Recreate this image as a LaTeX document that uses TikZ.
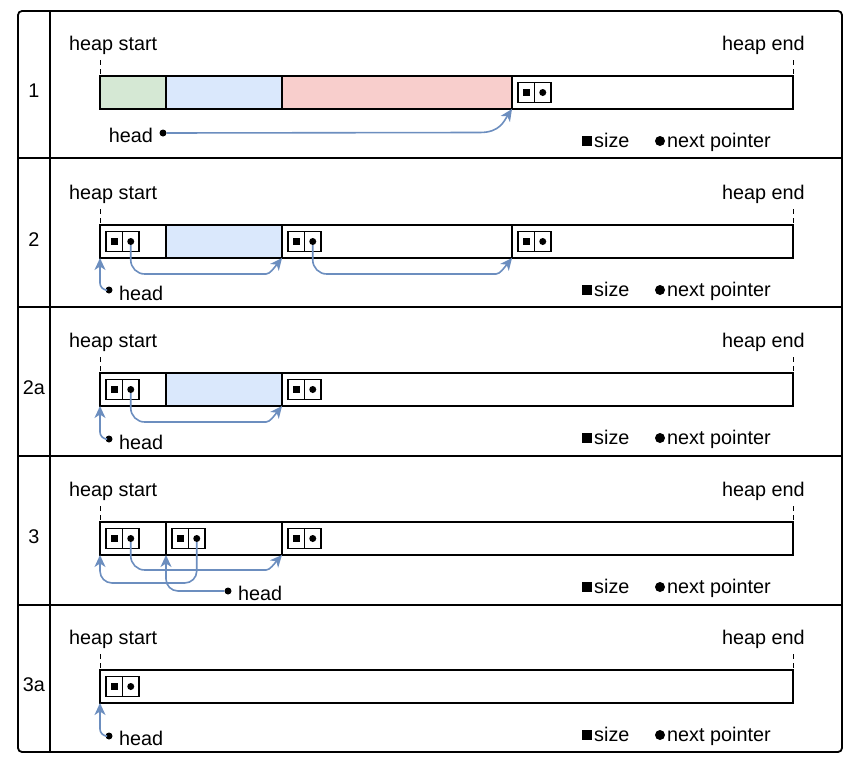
\documentclass[tikz,border=0pt]{standalone}
\usepackage{fontspec}
\setmainfont{Liberation Sans}
\usetikzlibrary{positioning,arrows.meta,calc}

\definecolor{grnfill}{HTML}{D5E8D4}
\definecolor{bluefill}{HTML}{DAE8FC}
\definecolor{redfill}{HTML}{F8CECC}
\definecolor{ptrblue}{HTML}{6C8EBF}

% header of a free block: size cell + next pointer cell
\newcommand{\hdrbox}[2]{%
  \node[cell, anchor=west, xshift=6pt] (#1s) at (#2.west) {};
  \node[cell, right=0pt of #1s] (#1p) {};
  \node[szmk] at (#1s) {};
  \node[ptmk] (#1d) at (#1p) {};}

\begin{document}
\begin{tikzpicture}[
  x=1pt, y=-1pt,
  font=\fontsize{19.8}{24}\selectfont,
  frm/.style={line width=1.8pt},
  blk/.style={draw, line width=1.5pt, minimum height=33pt, inner sep=0pt,
              outer sep=0pt, anchor=west},
  cell/.style={draw, line width=1.4pt, minimum width=16.5pt, minimum height=20pt,
               inner sep=0pt, outer sep=0pt},
  szmk/.style={fill=black, minimum size=7.5pt, inner sep=0pt},
  ptmk/.style={circle, fill=black, minimum size=7pt, inner sep=0pt},
  lgsq/.style={fill=black, minimum size=10pt, inner sep=0pt},
  lgdot/.style={circle, fill=black, minimum size=10pt, inner sep=0pt},
  lbl/.style={inner sep=0pt},
  tick/.style={line width=1pt, dash pattern=on 5pt off 4pt},
  ptr/.style={draw=ptrblue, line width=1.6pt,
              -{Stealth[length=12pt,width=11pt,inset=3.5pt]}}
]
\useasboundingbox (0,0) rectangle (862,766);

% table frame
\draw[frm, rounded corners=4pt] (18,11) rectangle (842,752);
\draw[frm] (50,11) -- (50,752);
\foreach \yy in {158,307,456,605}
  \draw[frm] (18,\yy) -- (842,\yy);

% parts repeated in every row
\foreach \o/\t [count=\i] in {0/1,149/2,297/2a,446/3,594/3a} {
  \node[lbl, anchor=base] (num\i) at (34,{97+\o}) {\t};
  \node[lbl, anchor=base west] (hs\i) at (69,{50+\o}) {heap start};
  \node[lbl, anchor=base west] (he\i) at (722,{50+\o}) {heap end};
  \draw[tick] (100,{60+\o}) -- (100,{76+\o});
  \draw[tick] (793,{60+\o}) -- (793,{76+\o});
  \node[lgsq] (lsq\i) at (587,{141+\o}) {};
  \node[lbl, anchor=base west] (lsz\i) at (594,{147+\o}) {size};
  \node[lgdot] (ldt\i) at (660,{141+\o}) {};
  \node[lbl, anchor=base west] (lnp\i) at (667,{147+\o}) {next pointer};
}

% row 1
\node[blk, fill=grnfill, minimum width=66pt] (b1a) at (100,92.5) {};
\node[blk, fill=bluefill, minimum width=116pt, right=0pt of b1a] (b1b) {};
\node[blk, fill=redfill, minimum width=230pt, right=0pt of b1b] (b1c) {};
\node[blk, minimum width=281pt, right=0pt of b1c] (b1d) {};
\hdrbox{h1d}{b1d}
\node[ptmk] (hd1) at (163,133) {};
\node[lbl, anchor=base east] (ht1) at (153,142) {head};
\draw[ptr] (hd1) -- ($(b1d.south west)+(-32,23.5)$)
  .. controls +(20,0) and +(-8,12) .. (b1d.south west);

% row 2
\node[blk, minimum width=66pt] (b2a) at (100,241.5) {};
\node[blk, fill=bluefill, minimum width=116pt, right=0pt of b2a] (b2b) {};
\node[blk, minimum width=230pt, right=0pt of b2b] (b2c) {};
\node[blk, minimum width=281pt, right=0pt of b2c] (b2d) {};
\hdrbox{h2a}{b2a}
\hdrbox{h2c}{b2c}
\hdrbox{h2d}{b2d}
\node[ptmk] (hd2) at (109,290) {};
\node[lbl, anchor=base west] (ht2) at (119,300) {head};
\draw[ptr, rounded corners=7pt] (hd2) -| (b2a.south west);
\draw[ptr, rounded corners=14pt] (h2ad) |- ($(b2c.south west)+(-30,16)$)
  .. controls +(18,0) and +(-8,10) .. (b2c.south west);
\draw[ptr, rounded corners=14pt] (h2cd) |- ($(b2d.south west)+(-30,16)$)
  .. controls +(18,0) and +(-8,10) .. (b2d.south west);

% row 2a
\node[blk, minimum width=66pt] (b3a) at (100,389.5) {};
\node[blk, fill=bluefill, minimum width=116pt, right=0pt of b3a] (b3b) {};
\node[blk, minimum width=511pt, right=0pt of b3b] (b3c) {};
\hdrbox{h3a}{b3a}
\hdrbox{h3c}{b3c}
\node[ptmk] (hd3) at (109,439) {};
\node[lbl, anchor=base west] (ht3) at (119,449) {head};
\draw[ptr, rounded corners=7pt] (hd3) -| (b3a.south west);
\draw[ptr, rounded corners=14pt] (h3ad) |- ($(b3c.south west)+(-30,16)$)
  .. controls +(18,0) and +(-8,10) .. (b3c.south west);

% row 3
\node[blk, minimum width=66pt] (b4a) at (100,538.5) {};
\node[blk, minimum width=116pt, right=0pt of b4a] (b4b) {};
\node[blk, minimum width=511pt, right=0pt of b4b] (b4c) {};
\hdrbox{h4a}{b4a}
\hdrbox{h4b}{b4b}
\hdrbox{h4c}{b4c}
\node[ptmk] (hd4) at (228,591) {};
\node[lbl, anchor=base west] (ht4) at (238,600) {head};
\draw[ptr, rounded corners=14pt] (h4ad) |- ($(b4c.south west)+(-30,15)$)
  .. controls +(18,0) and +(-8,9) .. (b4c.south west);
\draw[ptr, rounded corners=12pt] (h4bd) |- ($(b4a.south west)+(0,28)$)
  -- (b4a.south west);
\draw[ptr, rounded corners=12pt] (hd4) -| (b4b.south west);

% row 3a
\node[blk, minimum width=693pt] (b5a) at (100,686.5) {};
\hdrbox{h5a}{b5a}
\node[ptmk] (hd5) at (109,736) {};
\node[lbl, anchor=base west] (ht5) at (119,745) {head};
\draw[ptr, rounded corners=7pt] (hd5) -| (b5a.south west);
\end{tikzpicture}
\end{document}
